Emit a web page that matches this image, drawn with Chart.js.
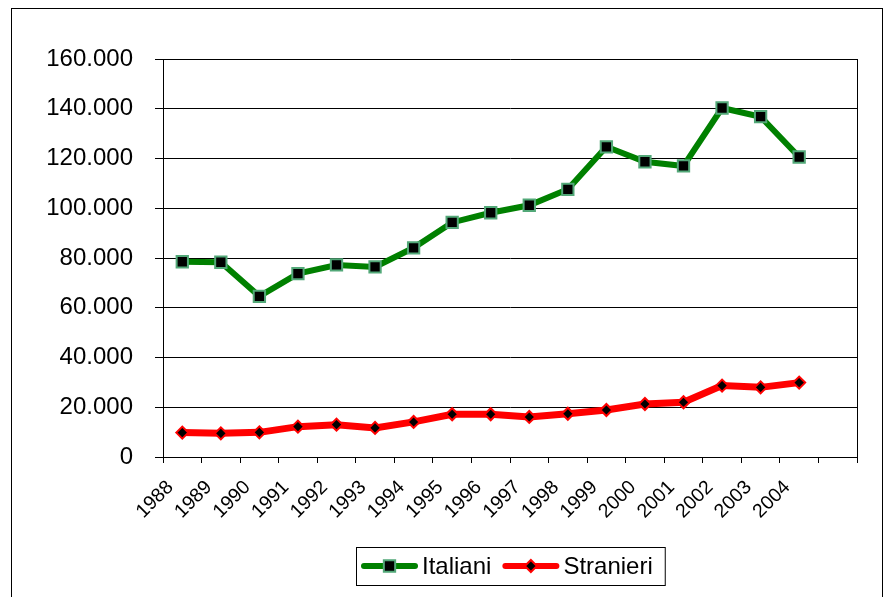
<!DOCTYPE html>
<html>
<head>
<meta charset="utf-8">
<script src="https://cdn.jsdelivr.net/npm/chart.js@4.4.1/dist/chart.umd.min.js"></script>
<style>
  html, body { margin: 0; padding: 0; background: #fff; }
</style>
</head>
<body>
<canvas id="chart" width="887" height="597"></canvas>
<script>
// ==================== DATA ====================
const years = ['1988', '1989', '1990', '1991', '1992', '1993', '1994', '1995', '1996',
               '1997', '1998', '1999', '2000', '2001', '2002', '2003', '2004', ''];
const italiani = [78500, 78300, 64600, 73700, 77200, 76400, 84100, 94300, 98200,
                  101200, 107600, 124700, 118700, 117000, 140300, 136800, 120600, null];
const stranieri = [9800, 9500, 9900, 12200, 13000, 11700, 14100, 17200, 17200,
                   16100, 17400, 18900, 21300, 22000, 28700, 28000, 29900, null];
const yTicks = [0, 20000, 40000, 60000, 80000, 100000, 120000, 140000, 160000];

const FONT = "'Liberation Sans', Arial, sans-serif";

function fmtIt(v) {
    return String(v).replace(/\B(?=(\d{3})+(?!\d))/g, '.');
}

// outer frame, right border of plot and the boxed legend
const framePlugin = {
    id: 'frame',
    afterDraw(chart) {
        const { ctx, chartArea: a } = chart;
        ctx.save();
        ctx.strokeStyle = '#000';
        ctx.lineWidth = 1;
        ctx.strokeRect(11.5, 8.5, 871, 620);
        ctx.beginPath();
        ctx.moveTo(Math.round(a.right) + 0.5, a.top);
        ctx.lineTo(Math.round(a.right) + 0.5, a.bottom);
        ctx.stroke();

        // legend
        ctx.font = '24px ' + FONT;
        const lineLen = 57;
        const items = chart.data.datasets.map(ds => ({ ds, tw: ctx.measureText(ds.label).width }));
        const padL = 5, padR = 12, gapText = 4, gapItem = 11;
        let total = padL + padR;
        items.forEach((it, i) => { total += lineLen + gapText + it.tw + (i ? gapItem : 0); });
        const boxH = 38;
        const bx = Math.round((a.left + a.right) / 2 - total / 2);
        const by = 547;
        const cy = by + boxH / 2;
        ctx.strokeRect(bx + 0.5, by + 0.5, total, boxH);
        let x = bx + padL;
        items.forEach((it, i) => {
            if (i) x += gapItem;
            const ds = it.ds;
            ctx.strokeStyle = ds.borderColor;
            ctx.lineWidth = 6;
            ctx.lineCap = 'round';
            ctx.beginPath();
            ctx.moveTo(x + 3, cy);
            ctx.lineTo(x + lineLen - 3, cy);
            ctx.stroke();
            ctx.fillStyle = ds.pointBackgroundColor;
            ctx.strokeStyle = ds.pointBorderColor;
            ctx.lineWidth = ds.pointBorderWidth;
            Chart.helpers.drawPoint(ctx, {
                pointStyle: ds.pointStyle,
                radius: ds.pointRadius,
                borderWidth: ds.pointBorderWidth
            }, x + lineLen / 2, cy);
            x += lineLen + gapText;
            ctx.fillStyle = '#000';
            ctx.textBaseline = 'middle';
            ctx.textAlign = 'left';
            ctx.fillText(ds.label, x, cy + 1);
            x += it.tw;
        });
        ctx.restore();
    }
};

new Chart(document.getElementById('chart'), {
    type: 'line',
    data: {
        labels: years,
        datasets: [
            {
                label: 'Italiani',
                data: italiani,
                borderColor: '#008000',
                borderWidth: 6,
                tension: 0,
                pointStyle: 'rect',
                pointRadius: 8,
                pointBackgroundColor: '#000',
                pointBorderColor: '#52a878',
                pointBorderWidth: 2
            },
            {
                label: 'Stranieri',
                data: stranieri,
                borderColor: '#ff0000',
                borderWidth: 7,
                tension: 0,
                pointStyle: 'rectRot',
                pointRadius: 6,
                pointBackgroundColor: '#000',
                pointBorderColor: '#ff0000',
                pointBorderWidth: 2
            }
        ]
    },
    options: {
        responsive: false,
        animation: false,
        events: [],
        layout: { padding: { left: 11, top: 59, right: 30, bottom: 0 } },
        plugins: {
            legend: { display: false },
            tooltip: { enabled: false }
        },
        scales: {
            x: {
                offset: true,
                afterFit: s => { s.height = 140; },
                grid: {
                    offset: true,
                    drawOnChartArea: false,
                    drawTicks: true,
                    tickLength: 6,
                    color: '#000'
                },
                border: { color: '#000', width: 1 },
                ticks: {
                    autoSkip: false,
                    maxRotation: 45,
                    minRotation: 45,
                    padding: 13,
                    labelOffset: -12,
                    color: '#000',
                    font: { family: FONT, size: 19.5 }
                }
            },
            y: {
                min: 0,
                max: 160000,
                afterFit: s => { s.width = 152; },
                afterBuildTicks: s => { s.ticks = yTicks.map(v => ({ value: v })); },
                grid: {
                    color: '#000',
                    tickLength: 8,
                    lineWidth: 1
                },
                border: { color: '#000', width: 1 },
                ticks: {
                    padding: 22,
                    color: '#000',
                    font: { family: FONT, size: 24 },
                    callback: v => fmtIt(v)
                }
            }
        }
    },
    plugins: [framePlugin]
});
</script>
</body>
</html>
